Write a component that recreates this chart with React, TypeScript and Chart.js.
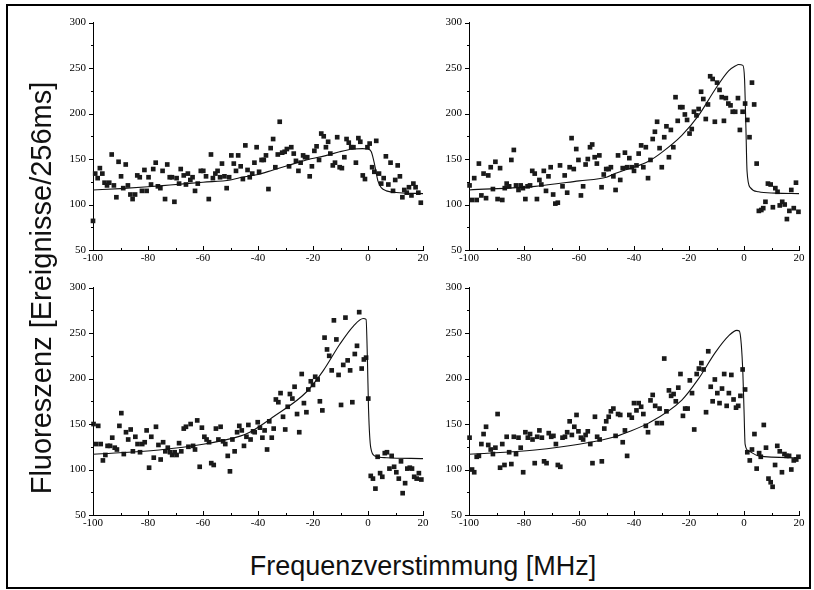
import React, { useEffect, useRef } from "react";
import { Chart, registerables } from "chart.js";

Chart.register(...registerables);

// ---------- axis configuration ----------
const X_MIN = -100;
const X_MAX = 20;
const Y_MIN = 50;
const Y_MAX = 300;
const X_LABEL = "Frequenzverstimmung [MHz]";
const Y_LABEL = "Fluoreszenz [Ereignisse/256ms]";

// ---------- panel 1 (top left) ----------
const p1X = [
  -100, -99.2, -98.3, -97.5, -96.6, -95.8, -94.9, -94.1, -93.2, -92.4, -91.5, -90.7, -89.8, -89, -88.1, -87.3, -86.4,
  -85.6, -84.7, -83.9, -83, -82.2, -81.3, -80.5, -79.8, -78.9, -78.1, -77.2, -76.4, -75.5, -74.7, -73.8, -73, -72.1,
  -71.3, -70.4, -69.6, -68.7, -68.1, -67, -66.2, -65.5, -64.6, -63.8, -62.9, -61.9, -60.8, -59.9, -58.9, -57.9, -57.1,
  -56.4, -55.5, -54.7, -53.8, -53.1, -52.2, -51.4, -50.5, -49.7, -48.8, -48, -47.2, -46.3, -45.5, -44.6, -43.8, -43,
  -42.1, -41.3, -40.5, -39.6, -38.7, -37.9, -37.1, -36.2, -35.4, -34.5, -33.7, -32.8, -32.1, -31.2, -30.3, -29.5,
  -28.7, -27.9, -27, -26.2, -25.3, -24.5, -23.6, -22.9, -22.1, -21.2, -20.4, -19.5, -18.7, -17.8, -17, -16.1, -15.3,
  -14.5, -13.7, -12.8, -12, -11.2, -10.3, -9.5, -8.6, -7.8, -7, -6.1, -5.3, -4.4, -3.5, -2.8, -1.9, -1.1, -0.2, 0.6,
  1.5, 2.3, 3, 4, 4.8, 5.7, 6.5, 7.4, 8.2, 9.1, 9.9, 10.8, 11.6, 12.5, 13.2, 14.1, 14.9, 15.8, 16.5, 17.3, 18.3, 19.2,
];
const p1Y = [
  82, 134, 129, 140, 134, 124, 121, 124, 155, 121, 108, 147, 131, 118, 144, 121, 111, 106, 111, 132, 130, 115, 138,
  115, 130, 122, 139, 146, 120, 118, 137, 106, 144, 130, 130, 103, 129, 123, 139, 132, 122, 134, 127, 130, 115, 123,
  137, 137, 131, 106, 155, 129, 134, 137, 130, 145, 131, 118, 130, 154, 145, 137, 154, 142, 128, 165, 138, 130,
  134, 146, 163, 136, 149, 149, 154, 117, 162, 172, 141, 155, 191, 157, 158, 161, 142, 163, 156, 148, 137, 146, 154,
  152, 152, 131, 142, 159, 164, 149, 178, 175, 163, 169, 156, 143, 146, 174, 141, 140, 152, 172, 168, 163, 163, 146,
  173, 169, 132, 128, 163, 167, 141, 136, 170, 134, 123, 129, 153, 122, 146, 115, 127, 143, 131, 108, 116, 113, 119,
  110, 123, 119, 113, 102,
];
const p1FitX = [-100, -90, -80, -72, -60, -50, -46.7, -40, -34.5, -30, -22.4, -15, -10.3, -5.5, -2, 0, 1.2, 2.4, 3.6, 4.8, 6.7, 11.5, 20];
const p1FitY = [116, 117.5, 119.5, 121.5, 124.5, 127, 129.5, 133, 138, 142, 149, 154, 158, 161, 161.5, 161, 158, 144, 126, 118.6, 115, 113, 112];

// ---------- panel 2 (top right) ----------
const p2X = [
  -99.8, -98.9, -98.1, -97.2, -96.4, -95.5, -94.7, -93.8, -93, -92.1, -91.3, -90.4, -89.6, -88.7, -87.9, -87, -86.3,
  -85.4, -84.6, -83.7, -82.9, -82, -81.2, -80.4, -79.5, -78.7, -77.8, -77, -76.1, -75.3, -74.4, -73.7, -72.8, -72,
  -71.1, -70.3, -69.4, -68.6, -67.7, -66.9, -66, -65.2, -64.3, -63.4, -62.7, -61.9, -61, -60.2, -59.3, -58.5, -57.6,
  -56.8, -56, -55.2, -54.3, -53.5, -52.6, -51.8, -51, -50.1, -49.2, -48.4, -47.5, -46.7, -45.8, -45, -44.1, -43.3,
  -42.5, -41.7, -40.8, -40, -39.1, -38.3, -37.4, -36.6, -35.7, -34.9, -34, -33.2, -32.4, -31.6, -30.7, -29.9, -29,
  -28.2, -27.3, -26.6, -25.7, -24.9, -24.1, -23.2, -22.4, -21.5, -20.7, -19.8, -19, -18.2, -17.3, -16.5, -15.6, -14.8,
  -13.9, -13.1, -12.3, -11.4, -10.6, -9.8, -8.9, -8.1, -7.3, -6.6, -5.7, -4.9, -4.1, -3.2, -2.2, -1.5, -0.5, 0.4, 1.2,
  2, 2.9, 3.7, 4.6, 5.4, 6.3, 7, 7.8, 8.7, 9.7, 10.5, 11.4, 12.2, 13, 13.9, 14.8, 15.6, 16.5, 17.2, 18.1, 18.9, 19.8,
];
const p2Y = [
  121, 105, 129, 105, 145, 110, 134, 107, 132, 141, 117, 147, 106, 140, 105, 118, 123, 120, 149, 160, 121, 116, 121,
  118, 106, 120, 121, 137, 134, 106, 127, 122, 137, 115, 131, 141, 111, 101, 102, 143, 120, 132, 113, 141, 173, 139,
  161, 149, 110, 120, 144, 150, 163, 166, 152, 145, 154, 119, 133, 139, 139, 141, 131, 116, 154, 127, 140, 157,
  141, 151, 141, 137, 143, 156, 165, 141, 163, 129, 149, 172, 180, 191, 162, 141, 174, 186, 152, 182, 163, 218, 192,
  207, 207, 199, 193, 178, 183, 202, 198, 205, 224, 216, 194, 210, 241, 238, 191, 234, 226, 218, 192, 217, 211, 209,
  202, 202, 217, 182, 202, 211, 193, 174, 234, 210, 145, 93, 94, 96, 103, 123, 122, 97, 118, 114, 99, 103, 100, 84,
  93, 116, 96, 124, 92,
];
const p2FitX = [-100, -76, -60, -50, -46.9, -43.3, -40, -34.7, -30, -22.6, -16.5, -10.4, -5.6, -3, -2, -0.4, 0.2, 0.7, 1.1, 2.3, 5.3, 11.4, 20];
const p2FitY = [116, 120, 126, 130, 134, 138, 141, 147.5, 157, 176, 198, 227, 247, 252.5, 254, 253, 238, 184, 137, 118.6, 114, 112.5, 112];

// ---------- panel 3 (bottom left) ----------
const p3X = [
  -99.8, -98.9, -98.1, -97.2, -96.4, -95.5, -94.7, -93.8, -93, -92.1, -91.3, -90.4, -89.7, -88.8, -88, -87.2, -86.3,
  -85.5, -84.6, -83.8, -82.9, -82.1, -81.2, -80.5, -79.6, -78.8, -77.9, -77.1, -76.2, -75.4, -74.5, -73.7, -72.8, -72,
  -71.2, -70.3, -69.6, -68.7, -67.9, -67, -66.2, -65.3, -64.5, -63.6, -62.9, -62.1, -61.2, -60.4, -59.5, -58.7, -57.8,
  -57, -56.1, -55.3, -54.4, -53.6, -52.7, -51.9, -51, -50.2, -49.3, -48.5, -47.6, -46.8, -45.9, -45.1, -44.2, -43.5,
  -42.7, -41.8, -41.2, -40.1, -39.3, -38.4, -37.6, -36.7, -35.9, -35, -34.3, -33.5, -32.6, -31.8, -30.9, -30.1, -29.2,
  -28.4, -27.5, -26.7, -25.8, -25, -24.1, -23.3, -22.4, -21.7, -20.8, -20, -19.2, -18.3, -17.5, -16.6, -15.8, -14.9,
  -14.1, -13.2, -12.4, -11.5, -10.7, -9.8, -9, -8.2, -7.4, -6.5, -5.7, -4.8, -4, -3.2, -2.3, -1.5, -0.7, 0.1, 1, 1.8,
  2.7, 3.5, 4.4, 5.2, 6.1, 6.9, 7.8, 8.6, 9.5, 10.3, 11.2, 12, 12.6, 13.5, 14.3, 15.2, 16, 16.8, 17.7, 18.5, 19.4,
];
const p3Y = [
  150, 128, 148, 128, 110, 116, 126, 126, 135, 124, 122, 148, 162, 117, 141, 133, 144, 120, 136, 128, 119, 128, 130,
  143, 102, 136, 113, 147, 127, 111, 130, 120, 124, 119, 116, 119, 116, 129, 120, 145, 147, 125, 150, 126, 122, 154,
  103, 146, 136, 133, 130, 107, 105, 145, 133, 147, 131, 128, 115, 98, 133, 120, 141, 148, 143, 126, 136, 149,
  133, 142, 141, 152, 146, 135, 143, 122, 153, 135, 145, 177, 174, 184, 158, 144, 169, 183, 178, 191, 161, 141, 205,
  173, 163, 188, 197, 193, 202, 199, 175, 165, 245, 232, 225, 209, 264, 243, 204, 171, 215, 267, 220, 209, 174, 227,
  236, 273, 211, 221, 223, 178, 93, 90, 79, 114, 96, 92, 118, 119, 101, 115, 103, 97, 90, 109, 74, 85, 101, 102, 101,
  92, 90, 96, 89,
];
const p3FitX = [-100, -76, -60, -46.5, -43, -34.4, -22.3, -16.2, -10.2, -5.3, -1.7, -0.7, -0.2, 0.2, 1, 2.5, 6.8, 20];
const p3FitY = [116.8, 121.5, 127.7, 136.7, 141, 158, 185.5, 209, 238, 257.7, 266, 265, 220, 166, 124, 115, 113, 112];

// ---------- panel 4 (bottom right) ----------
const p4X = [
  -99.8, -98.9, -98.1, -97.2, -96.4, -95.5, -94.7, -93.8, -93, -92.1, -91.3, -90.4, -89.6, -88.7, -87.9, -87.1, -86.3,
  -85.4, -84.6, -83.7, -82.9, -82, -81.2, -80.3, -79.5, -78.6, -77.8, -76.9, -76.1, -75.2, -74.4, -73.5, -72.7, -71.8,
  -71, -70.1, -69.3, -68.4, -67.7, -66.8, -66, -65.1, -64.3, -63.4, -62.6, -61.7, -60.9, -60.2, -59.3, -58.5, -57.6,
  -56.8, -55.9, -55.1, -54.2, -53.4, -52.5, -51.7, -50.8, -50.1, -49.2, -48.4, -47.5, -46.7, -45.8, -45, -44.1, -43.3,
  -42.5, -41.7, -40.8, -40, -39.1, -38.3, -37.4, -36.6, -35.7, -34.9, -34, -33.2, -32.3, -31.6, -30.7, -29.9, -29,
  -28.2, -27.3, -26.5, -25.6, -24.8, -23.9, -23.1, -22.2, -21.4, -20.5, -19.7, -18.9, -18.1, -17.2, -16.4, -15.5,
  -14.7, -13.8, -13, -12.1, -11.4, -10.6, -9.7, -8.9, -8, -7.2, -6.3, -5.5, -4.6, -3.8, -2.9, -2.1, -1.3, -0.5, 0.4,
  1.2, 2.1, 2.9, 3.8, 4.6, 5.5, 6.1, 7.2, 8, 8.9, 9.7, 10.4, 11.3, 12.1, 13, 13.8, 14.7, 15.5, 16.4, 17.2, 18.1, 19,
  19.8,
];
const p4Y = [
  135, 100, 97, 114, 115, 128, 139, 147, 127, 122, 117, 124, 161, 102, 128, 105, 136, 119, 106, 136, 117, 135, 124,
  97, 141, 135, 139, 133, 107, 136, 143, 135, 109, 107, 140, 136, 137, 128, 105, 103, 135, 136, 141, 153, 138, 147,
  160, 142, 135, 133, 138, 142, 128, 107, 158, 136, 133, 109, 145, 153, 158, 164, 167, 137, 161, 160, 130, 143,
  115, 160, 157, 173, 165, 173, 169, 161, 148, 141, 176, 182, 170, 151, 167, 151, 222, 164, 187, 181, 183, 175, 190,
  205, 159, 167, 167, 198, 184, 144, 205, 211, 217, 210, 163, 230, 191, 175, 199, 184, 173, 189, 205, 170, 184, 204,
  177, 168, 170, 181, 210, 188, 119, 110, 122, 139, 101, 118, 114, 149, 124, 90, 86, 81, 105, 126, 120, 97, 117, 115,
  115, 100, 110, 111, 114,
];
const p4FitX = [-100, -76, -60, -46.9, -43.3, -34.7, -22.6, -16.5, -10.4, -5.6, -2.6, -1.7, -1, -0.4, 0, 0.4, 1.7, 5.3, 19.7];
const p4FitY = [116.8, 121.5, 127.7, 136, 140, 151, 176.4, 200, 228.8, 246.9, 253, 252.3, 238, 205, 166, 128, 120.4, 115, 112.8];

const TICK_FONT = { family: "'Liberation Serif', 'Times New Roman', serif", size: 11 };

const originTicks = {
  id: "originTicks",
  afterDraw(chart: any) {
    const { ctx, chartArea, scales } = chart;
    const xs = scales.x;
    const ys = scales.y;
    ctx.save();
    ctx.strokeStyle = "#000";
    ctx.lineWidth = 1;
    ctx.beginPath();
    for (let v = Y_MIN; v <= Y_MAX; v += 25) {
      const py = Math.round(ys.getPixelForValue(v)) + 0.5;
      const len = v % 50 === 0 ? 4 : 2;
      ctx.moveTo(chartArea.left - len, py);
      ctx.lineTo(chartArea.left, py);
    }
    for (let v = X_MIN; v <= X_MAX; v += 10) {
      const px = Math.round(xs.getPixelForValue(v)) + 0.5;
      const len = v % 20 === 0 ? 4 : 2;
      ctx.moveTo(px, chartArea.bottom);
      ctx.lineTo(px, chartArea.bottom - len);
    }
    ctx.stroke();
    ctx.restore();
  },
};

type PanelProps = {
  xs: number[];
  ys: number[];
  fx: number[];
  fy: number[];
  left: number;
  top: number;
};

const CW = 380;
const CH = 261;

function Panel({ xs, ys, fx, fy, left, top }: PanelProps) {
  const ref = useRef<HTMLCanvasElement | null>(null);
  useEffect(() => {
    if (!ref.current) return;
    const pts = xs.map((x, i) => ({ x, y: ys[i] }));
    const fit = fx.map((x, i) => ({ x, y: fy[i] }));
    const chart = new Chart(ref.current, {
      type: "scatter",
      data: {
        datasets: [
          {
            type: "line",
            data: fit,
            borderColor: "#111",
            borderWidth: 1.1,
            pointRadius: 0,
            fill: false,
            cubicInterpolationMode: "monotone",
            clip: false,
          } as any,
          {
            data: pts,
            pointStyle: "rect",
            pointRadius: 3.3,
            backgroundColor: "#1a1a1a",
            borderWidth: 0,
            clip: false,
          } as any,
        ],
      },
      options: {
        responsive: false,
        animation: false,
        devicePixelRatio: 1,
        layout: { padding: { top: 10, right: 10, left: 0, bottom: 0 } },
        plugins: { legend: { display: false }, tooltip: { enabled: false } },
        scales: {
          x: {
            type: "linear",
            min: X_MIN,
            max: X_MAX,
            grid: { display: false, drawTicks: false },
            border: { display: true, color: "#000", width: 1 },
            ticks: { stepSize: 20, font: TICK_FONT, color: "#000", padding: 2, maxRotation: 0 },
            afterFit: (s: any) => {
              s.height = 20;
            },
          },
          y: {
            type: "linear",
            min: Y_MIN,
            max: Y_MAX,
            grid: { display: false, drawTicks: false },
            border: { display: true, color: "#000", width: 1 },
            ticks: { stepSize: 50, font: TICK_FONT, color: "#000", padding: 7 },
            afterFit: (s: any) => {
              s.width = 40;
            },
          },
        },
      },
      plugins: [originTicks],
    } as any);
    return () => chart.destroy();
  }, [xs, ys, fx, fy]);
  return (
    <canvas
      ref={ref}
      width={CW}
      height={CH}
      style={{ position: "absolute", left, top, width: CW, height: CH }}
    />
  );
}

export default function App() {
  const font = "'Liberation Sans', Arial, Helvetica, sans-serif";
  return (
    <div style={{ position: "absolute", left: 0, top: 0, width: 814, height: 590, background: "#fff", overflow: "hidden" }}>
      <div
        style={{
          position: "absolute",
          left: 6,
          top: 4,
          width: 805,
          height: 585,
          boxSizing: "border-box",
          border: "2px solid #000",
        }}
      />
      <Panel xs={p1X} ys={p1Y} fx={p1FitX} fy={p1FitY} left={53} top={9} />
      <Panel xs={p2X} ys={p2Y} fx={p2FitX} fy={p2FitY} left={429} top={9} />
      <Panel xs={p3X} ys={p3Y} fx={p3FitX} fy={p3FitY} left={53} top={274} />
      <Panel xs={p4X} ys={p4Y} fx={p4FitX} fy={p4FitY} left={429} top={274} />
      <div
        style={{
          position: "absolute",
          left: 41 - 250,
          top: 288 - 18,
          width: 500,
          height: 36,
          lineHeight: "36px",
          textAlign: "center",
          transform: "rotate(-90deg)",
          fontFamily: font,
          fontSize: 29,
          color: "#111",
          whiteSpace: "nowrap",
        }}
      >
        {Y_LABEL}
      </div>
      <div
        style={{
          position: "absolute",
          left: 123,
          top: 566 - 18,
          width: 600,
          height: 36,
          lineHeight: "36px",
          textAlign: "center",
          fontFamily: font,
          fontSize: 27,
          color: "#111",
          whiteSpace: "nowrap",
        }}
      >
        {X_LABEL}
      </div>
    </div>
  );
}
